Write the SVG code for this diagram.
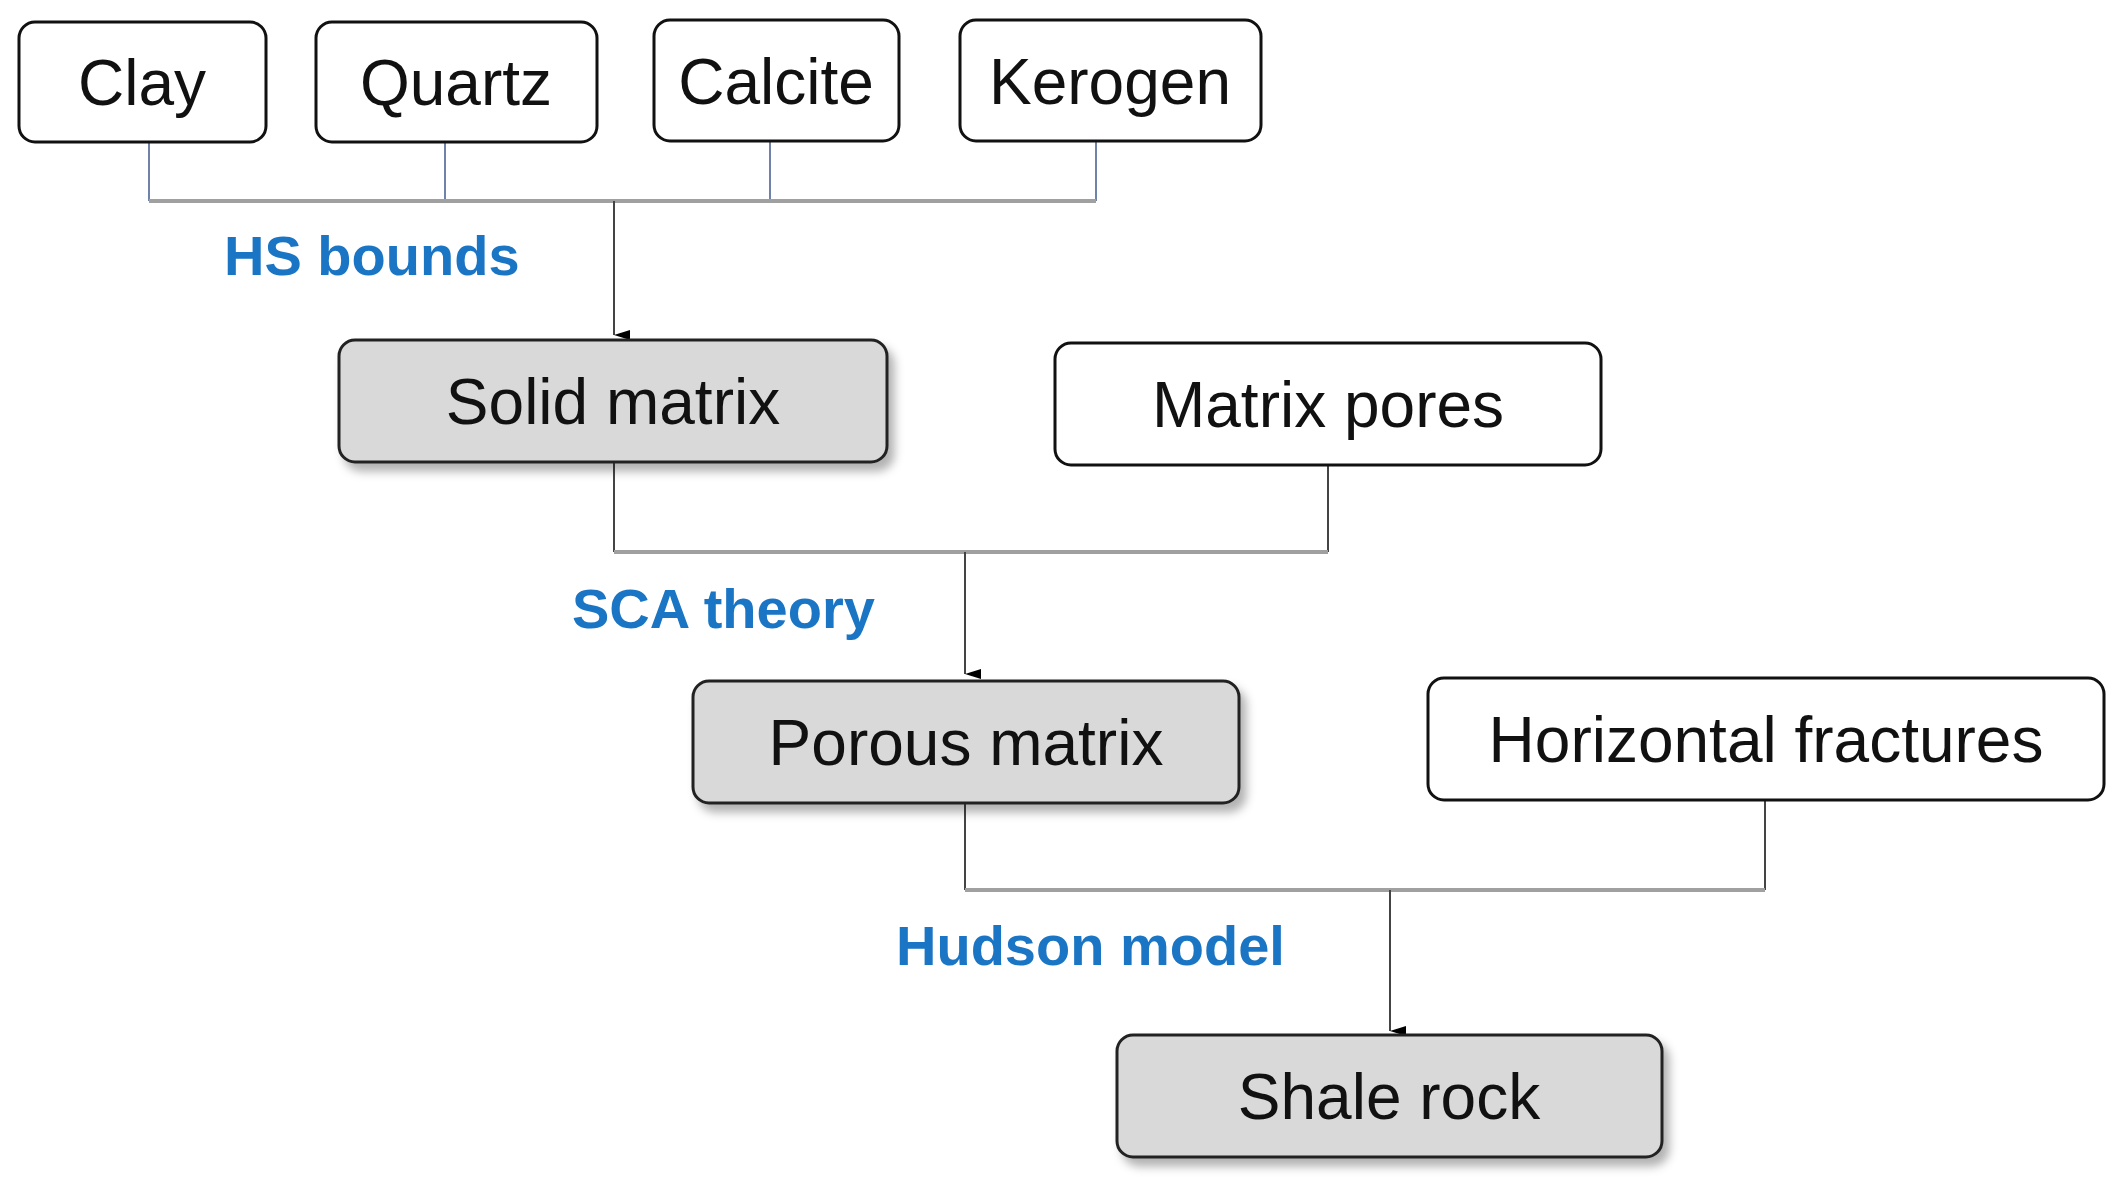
<svg xmlns="http://www.w3.org/2000/svg" width="2115" height="1186" viewBox="0 0 2115 1186">
<defs>
<filter id="sh" x="-10%" y="-20%" width="130%" height="160%"><feDropShadow dx="6" dy="8" stdDeviation="5" flood-color="#000" flood-opacity="0.3"/></filter>
<marker id="ar" markerWidth="10" markerHeight="16" refX="5" refY="16" orient="auto-start-reverse" markerUnits="userSpaceOnUse" viewBox="0 0 10 16"><path d="M0,0 L10,0 L5,16 Z" fill="#000"/></marker>
<style>
.b{fill:#fff;stroke:#111;stroke-width:3}
.g{fill:#d9d9d9;stroke:#222;stroke-width:3;filter:url(#sh)}
.t{font-family:"Liberation Sans",Arial,sans-serif;font-size:64px;fill:#111;text-anchor:middle}
.l{font-family:"Liberation Sans",Arial,sans-serif;font-size:56px;font-weight:bold;fill:#1a75c4}
.v{stroke:#444;stroke-width:2;fill:none}
.vb{stroke:#7082aa;stroke-width:2;fill:none}
.h{stroke:#a0a0a0;stroke-width:4;fill:none}
</style>
</defs>
<rect width="2115" height="1186" fill="#fff"/>
<g id="connectors">
<path class="vb" d="M149,142V201M445,142V201M770,141V201M1096,141V201"/>
<path class="h" d="M149,201H1096"/>
<path class="v" d="M614,201V335" marker-end="url(#ar)"/>
<path class="v" d="M614,462V552M1328,465V552"/>
<path class="h" d="M614,552H1328"/>
<path class="v" d="M965,552V674" marker-end="url(#ar)"/>
<path class="v" d="M965,803V890M1765,800V890"/>
<path class="h" d="M965,890H1765"/>
<path class="v" d="M1390,890V1031" marker-end="url(#ar)"/>
</g>
<g id="labels">
<text class="l" x="224" y="275">HS bounds</text>
<text class="l" x="572" y="628">SCA theory</text>
<text class="l" x="896" y="965">Hudson model</text>
</g>
<g id="clay"><rect class="b" x="19" y="22" width="247" height="120" rx="16"/><text class="t" x="142" y="105">Clay</text></g>
<g id="quartz"><rect class="b" x="316" y="22" width="281" height="120" rx="16"/><text class="t" x="456" y="105">Quartz</text></g>
<g id="calcite"><rect class="b" x="654" y="20" width="245" height="121" rx="16"/><text class="t" x="776" y="104">Calcite</text></g>
<g id="kerogen"><rect class="b" x="960" y="20" width="301" height="121" rx="16"/><text class="t" x="1110" y="104">Kerogen</text></g>
<g id="solid"><rect class="g" x="339" y="340" width="548" height="122" rx="16"/><text class="t" x="613" y="424">Solid matrix</text></g>
<g id="pores"><rect class="b" x="1055" y="343" width="546" height="122" rx="16"/><text class="t" x="1328" y="427">Matrix pores</text></g>
<g id="porous"><rect class="g" x="693" y="681" width="546" height="122" rx="16"/><text class="t" x="966" y="765">Porous matrix</text></g>
<g id="fractures"><rect class="b" x="1428" y="678" width="676" height="122" rx="16"/><text class="t" x="1766" y="762">Horizontal fractures</text></g>
<g id="shale"><rect class="g" x="1117" y="1035" width="545" height="122" rx="16"/><text class="t" x="1389" y="1119">Shale rock</text></g>
</svg>
